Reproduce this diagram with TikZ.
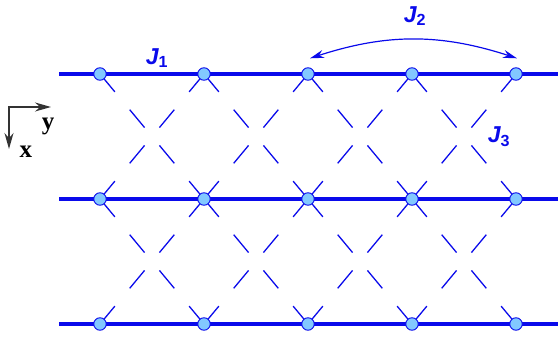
\documentclass[tikz,border=0pt]{standalone}
\usepackage{fontspec}
\setsansfont{Liberation Sans}
\setmainfont{Liberation Serif}
\usetikzlibrary{arrows.meta,backgrounds}
\definecolor{latblue}{RGB}{10,10,235}
\definecolor{sitefill}{RGB}{130,200,255}

\begin{document}
\begin{tikzpicture}[x=1pt, y=-1pt,
  site/.style={circle, draw=latblue, fill=sitefill, line width=0.9pt,
               minimum size=12.5pt, inner sep=0pt},
  chain/.style={latblue, line width=3.2pt},
  cross/.style={latblue, line width=1.3pt, dash pattern=on 23.23pt off 23.23pt},
  coup/.style={font=\sffamily\bfseries\itshape\fontsize{23}{23}\selectfont,
               text=latblue, inner sep=0pt},
  axis/.style={{Stealth[length=16pt, width=9pt]}-{Stealth[length=16pt, width=9pt]},
               line width=1.6pt, black!80},
  axlab/.style={font=\bfseries\fontsize{25}{25}\selectfont, inner sep=0pt}]
\useasboundingbox (0,0) rectangle (558,339);

%% lattice sites
\foreach \r/\y in {1/74,2/199,3/324}
  \foreach \c in {1,...,5}
    \node[site] (n-\r-\c) at ({100+104*(\c-1)},\y) {};

%% chains and crossed couplings, behind the sites
\begin{scope}[on background layer]
\foreach \r/\y in {1/74,2/199,3/324} {
  \coordinate (w-\r) at (59,\y);
  \coordinate (e-\r) at (558,\y);
  \draw[chain] (w-\r) -- (e-\r);
}
\foreach \r/\s in {1/2,2/3}
  \foreach \c/\d in {1/2,2/3,3/4,4/5} {
    \draw[cross] (n-\r-\c.center) -- (n-\s-\d.center);
    \draw[cross] (n-\r-\d.center) -- (n-\s-\c.center);
  }
\end{scope}

%% coupling labels
\node[coup] (j1) at (157,58) {J\textsubscript{\upshape 1}};
\node[coup] (j2) at (415,16) {J\textsubscript{\upshape 2}};
\node[coup] (j3) at (499,137) {J\textsubscript{\upshape 3}};
\draw[latblue, line width=1.2pt, {Stealth[length=14pt, width=8pt]}-{Stealth[length=14pt, width=8pt]}]
  ([xshift=2pt, yshift=9pt]n-1-3.north) to[bend left=18] ([xshift=1pt, yshift=9pt]n-1-5.north);

%% axes
\coordinate (o) at (9,107);
\coordinate (ay) at (51,107);
\coordinate (ax) at (9,149);
\draw[axis] (ay) -- (o) -- (ax);
\node[axlab] (ly) at (48,126) {y};
\node[axlab] (lx) at (26,152) {x};
\end{tikzpicture}
\end{document}
